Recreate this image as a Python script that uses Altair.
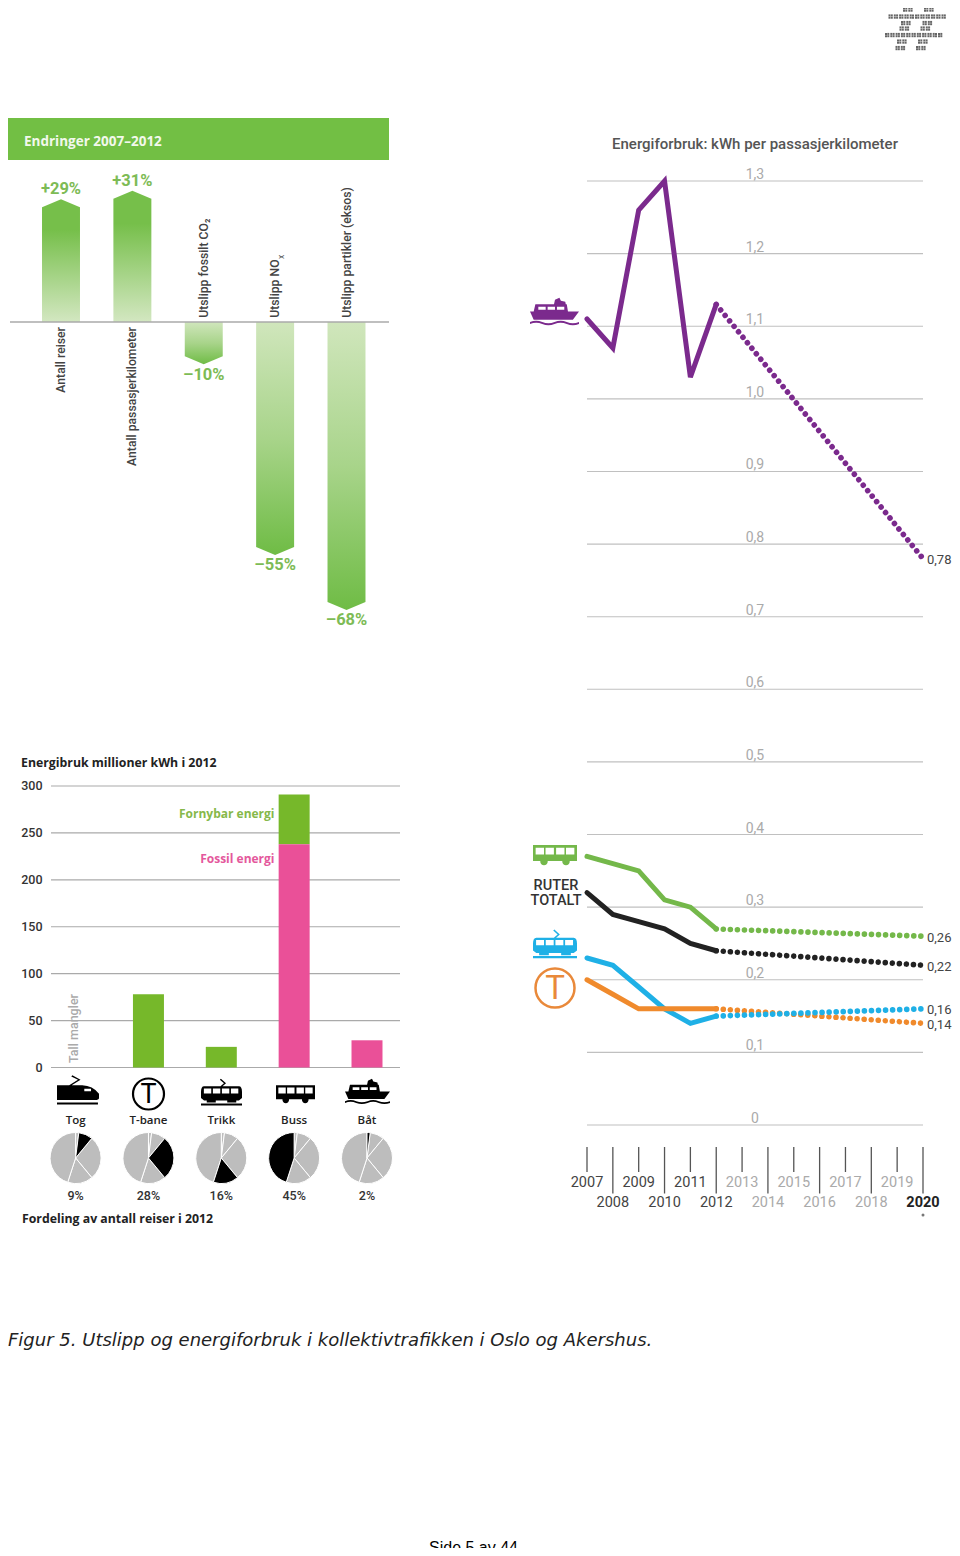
import math
import altair as alt
import pandas as pd

# ---------- data ----------
change_names = ["Antall reiser", "Antall passasjerkilometer", "Utslipp fossilt CO₂", "Utslipp NO", "Utslipp partikler (eksos)"]
change_values = [29, 31, -10, -55, -68]
change_labels = ["+29%", "+31%", "–10%", "–55%", "–68%"]

modes = ["Tog", "T-bane", "Trikk", "Buss", "Båt"]
renewable_start = [None, 0, 0, 238, None]
renewable_end = [None, 78, 22, 291, None]
fossil_start = [None, None, None, 0, 0]
fossil_end = [None, None, None, 238, 29]
energy_ticks = [0, 50, 100, 150, 200, 250, 300]
share_values = [9, 28, 16, 45, 2]
share_labels = ["9%", "28%", "16%", "45%", "2%"]
pie_order = ["Båt", "Tog", "T-bane", "Trikk", "Buss"]

years_all = list(range(2007, 2021))
years_hist = [2007, 2008, 2009, 2010, 2011, 2012]
boat_hist = [1.11, 1.07, 1.26, 1.30, 1.03, 1.13]
bus_hist = [0.37, 0.36, 0.35, 0.31, 0.30, 0.27]
total_hist = [0.32, 0.29, 0.28, 0.27, 0.25, 0.24]
tram_hist = [0.23, 0.22, 0.19, 0.16, 0.14, 0.15]
metro_hist = [0.20, 0.18, 0.16, 0.16, 0.16, 0.16]
end_labels = ["0,78", "0,26", "0,22", "0,16", "0,14"]
end_values = [0.78, 0.26, 0.22, 0.16, 0.14]
kwh_ticks = [0, 0.1, 0.2, 0.3, 0.4, 0.5, 0.6, 0.7, 0.8, 0.9, 1.0, 1.1, 1.2, 1.3]
kwh_labels = ["0", "0,1", "0,2", "0,3", "0,4", "0,5", "0,6", "0,7", "0,8", "0,9", "1,0", "1,1", "1,2", "1,3"]

logo_rows = [3, 9.5, 16.5, 23, 28.5, 35, 41.5, 48]
logo_spans = [[(905, 2), (926.5, 2)], [(904, 2), (925, 2)], [(889.5, 11)], [(902, 2), (923.5, 2)],
              [(900.5, 2), (921.5, 2)], [(886, 11)], [(898, 2), (919, 2)], [(896.5, 2), (917, 2)]]

FONT = "Roboto"
BOLD = "Open Sans"
ONE = pd.DataFrame({"k": [0]})
GREEN = "#74b84a"; BLACK = "#222222"; BLUE = "#1fb0e6"; ORANGE = "#f08a2c"; PURPLE = "#7b2a8d"
BAR_GREEN = "#76b82a"; PINK = "#ea5098"


def sc(domain, page_range, offset=8, **kw):
    return alt.Scale(domain=domain, range=[page_range[0] - offset, page_range[1] - offset], nice=False, zero=False, **kw)


def v(p):
    return alt.value(p - 8)


def note(s, x, y, **kw):
    kw.setdefault("font", FONT)
    kw.setdefault("baseline", "middle")
    return alt.Chart(ONE).mark_text(text=s, **kw).encode(x=v(x), y=v(y + 1))


# ---------- icon shapes, drawn in a -1..1 box ----------
def hole(x0, y0, x1, y1):
    return f"M{x0},{y0}L{x0},{y1}L{x1},{y1}L{x1},{y0}Z"


def box(x0, y0, x1, y1):
    return f"M{x0},{y0}L{x1},{y0}L{x1},{y1}L{x0},{y1}Z"


def disc(cx, cy, r):
    pts = [(cx + r * math.cos(i * math.pi / 8), cy + r * math.sin(i * math.pi / 8)) for i in range(16)]
    return "M" + "L".join(f"{a:.3f},{b:.3f}" for a, b in pts) + "Z"


TRAIN = ("M-1,-0.32L0.2,-0.32Q0.7,-0.3 1,0.08L1,0.28Q1,0.38 0.8,0.38L-1,0.38Z"
         + hole(0.3, -0.16, 0.62, -0.03)
         + "M-0.42,-0.32L0,-0.58L-0.32,-0.74L-0.27,-0.8L0.12,-0.58L-0.3,-0.32Z"
         + box(-1, 0.5, 0.95, 0.6))
TRAM = ("M-0.85,-0.38L0.85,-0.38Q1,-0.38 1,-0.1L1,0.2L0.85,0.32L-0.85,0.32L-1,0.2L-1,-0.1Q-1,-0.38 -0.85,-0.38Z"
        + "".join(hole(a, -0.27, a + 0.36, -0.03) for a in (-0.86, -0.42, 0.02, 0.46))
        + "M-0.05,-0.38L0.12,-0.52L-0.08,-0.7L-0.03,-0.75L0.22,-0.52L0.05,-0.38Z"
        + box(-0.72, 0.32, -0.28, 0.42) + box(0.28, 0.32, 0.72, 0.42)
        + box(-1, 0.46, 1, 0.56))
BUS = (box(-1, -0.45, 1, 0.27)
       + "".join(hole(a, -0.33, a + 0.38, -0.02) for a in (-0.88, -0.43, 0.05, 0.5))
       + disc(-0.5, 0.3, 0.17) + disc(0.5, 0.3, 0.17))
BOAT = ("M-1,0.02L1,0.02L0.75,0.36L-0.85,0.36Z"
        + "M-0.78,-0.28L0.5,-0.28L0.55,0.02L-0.85,0.02Z"
        + hole(-0.66, -0.17, -0.36, -0.05) + hole(-0.28, -0.17, 0.02, -0.05) + hole(0.1, -0.17, 0.4, -0.05)
        + "M-0.02,-0.28L0.02,-0.46L0.2,-0.54L0.26,-0.42L0.44,-0.38L0.46,-0.28Z"
        + "M-1,0.45Q-0.75,0.35 -0.5,0.45Q-0.25,0.55 0,0.45Q0.25,0.35 0.5,0.45Q0.75,0.55 1,0.45"
        + "L1,0.53Q0.75,0.63 0.5,0.53Q0.25,0.43 0,0.53Q-0.25,0.63 -0.5,0.53Q-0.75,0.43 -1,0.53Z")


def icon(path, x, y, side, color):
    return alt.Chart(ONE).mark_point(shape=path, size=side * side, filled=True, color=color, opacity=1, strokeWidth=0).encode(x=v(x), y=v(y))


layers = []

# ---------- logo ----------
logo_x, logo_y = [], []
for row, spans in zip(logo_rows, logo_spans):
    for start, n in spans:
        for i in range(n):
            for a in (0, 2.3):
                for b in (0, 2.3):
                    logo_x.append(start + i * 5.3 + a)
                    logo_y.append(row - 1.1 + b)
logo_df = pd.DataFrame({"x": logo_x, "y": logo_y})
layers.append(alt.Chart(logo_df).mark_square(size=4, color="#666666", opacity=1).encode(
    x=alt.X("x:Q", scale=sc([880, 950], [880, 950]), axis=None),
    y=alt.Y("y:Q", scale=sc([0, 60], [0, 60]), axis=None)))

# ---------- panel A: changes ----------
AX = sc([0, 4], [61, 346.5])
AY = sc([-70, 35], [322 + 70 * 4.235, 322 - 35 * 4.235])
layers.append(alt.Chart(ONE).mark_rect(color="#72bf44").encode(x=v(8), x2=v(389), y=v(118), y2=v(160)))
layers.append(note("Endringer 2007–2012", 24, 141, font=BOLD, color="#f2f8ec", fontSize=13.5, fontWeight=700, align="left"))

w = 0.266
up_rows, down_rows = [], []
for i, (name, val) in enumerate(zip(change_names, change_values)):
    sign = 1 if val > 0 else -1
    shoulder = val - sign * 1.9
    rows = up_rows if val > 0 else down_rows
    for dx, top in ((-w, shoulder), (0, val), (w, shoulder)):
        rows.append({"x": i + dx, "y": top, "base": 0, "name": name})
for rows, stops in ((up_rows, ["#76bf4a", "#76bf4a", "#d3e7c1"]), (down_rows, ["#d0e6bc", "#a8d48a", "#6fbc45"])):
    grad = {"gradient": "linear", "x1": 0, "x2": 0, "y1": 0, "y2": 1,
            "stops": [{"offset": 0, "color": stops[0]}, {"offset": 0.25 if rows is up_rows else 0.5, "color": stops[1]},
                      {"offset": 1, "color": stops[2]}]}
    layers.append(alt.Chart(pd.DataFrame(rows)).mark_area(color=grad, orient="vertical").encode(
        x=alt.X("x:Q", scale=AX, axis=None),
        y=alt.Y("y:Q", scale=AY, axis=None, stack=None),
        y2="base:Q", detail="name:N"))

layers.append(alt.Chart(pd.DataFrame({"y": [0]})).mark_rule(color="#aaaaaa", strokeWidth=1.3).encode(
    x=v(10), x2=v(389), y=alt.Y("y:Q", scale=AY, axis=None)))

label_df = pd.DataFrame({"i": range(5), "t": change_labels,
                         "y": [a + (2.3 if a > 0 else -2.4) for a in change_values]})
layers.append(alt.Chart(label_df).mark_text(font=FONT, fontSize=16.5, fontWeight=700, color="#7dbb55", baseline="middle").encode(
    x=alt.X("i:Q", scale=AX, axis=None), y=alt.Y("y:Q", scale=AY, axis=None), text="t:N"))
name_df = pd.DataFrame({"i": range(5), "t": change_names, "pos": [a > 0 for a in change_values]})
for pos, align, anchor in ((True, "right", -1.2), (False, "left", 1.0)):
    d = name_df[name_df.pos == pos].assign(y=anchor)
    layers.append(alt.Chart(d).mark_text(font=FONT, fontSize=12.2, fontWeight=500, color="#444444", angle=270,
                                         align=align, baseline="middle").encode(
        x=alt.X("i:Q", scale=AX, axis=None), y=alt.Y("y:Q", scale=AY, axis=None), text="t:N"))
layers.append(note("x", 280.5, 256, fontSize=8.5, color="#444444", angle=270, align="center"))

# ---------- panel B: energy ----------
BX = sc([0, 4], [75.6, 367], padding=0)
BY = sc([0, 300], [1067.5, 786])
layers.append(note("Energibruk millioner kWh i 2012", 21, 762, font=BOLD, color="#222222", fontSize=12.3, fontWeight=700, align="left"))
tick_df = pd.DataFrame({"y": energy_ticks, "t": [str(a) for a in energy_ticks]})
layers.append(alt.Chart(tick_df).mark_rule(color="#aaaaaa", strokeWidth=1.1).encode(
    x=v(51), x2=v(400), y=alt.Y("y:Q", scale=BY, axis=None)))
layers.append(alt.Chart(tick_df).mark_text(font=FONT, fontSize=12.5, fontWeight=500, color="#333333", align="right", baseline="middle").encode(
    x=v(42.5), y=alt.Y("y:Q", scale=BY, axis=None), text="t:N"))
seg = []
for i in range(5):
    if renewable_end[i] is not None:
        seg.append({"x": i, "a": renewable_start[i], "b": renewable_end[i], "kind": "Fornybar energi"})
    if fossil_end[i] is not None:
        seg.append({"x": i, "a": fossil_start[i], "b": fossil_end[i], "kind": "Fossil energi"})
layers.append(alt.Chart(pd.DataFrame(seg)).mark_bar(size=31).encode(
    x=alt.X("x:Q", scale=BX, axis=None),
    y=alt.Y("a:Q", scale=BY, axis=None, stack=None), y2="b:Q",
    color=alt.Color("kind:N", legend=None, scale=alt.Scale(domain=["Fornybar energi", "Fossil energi"], range=[BAR_GREEN, PINK]))))
layers.append(note("Fornybar energi", 274.5, 813, font=BOLD, color="#86b84a", fontSize=12, fontWeight=700, align="right"))
layers.append(note("Fossil energi", 274.5, 857.5, font=BOLD, color="#e4589c", fontSize=12, fontWeight=700, align="right"))
layers.append(note("Tall mangler", 74, 1062, color="#aaaaaa", fontSize=12.5, fontWeight=500, align="left", angle=270))

mode_df = pd.DataFrame({"i": range(5), "t": modes, "s": share_labels})
layers.append(alt.Chart(mode_df).mark_text(font=BOLD, fontSize=11.5, fontWeight=600, color="#222222", baseline="middle").encode(
    x=alt.X("i:Q", scale=BX, axis=None), y=v(1120.5), text="t:N"))
layers.append(alt.Chart(mode_df).mark_text(font=FONT, fontSize=12.5, fontWeight=500, color="#333333", baseline="middle").encode(
    x=alt.X("i:Q", scale=BX, axis=None), y=v(1195.5), text="s:N"))
layers.append(note("Fordeling av antall reiser i 2012", 22, 1217.5, font=BOLD, color="#222222", fontSize=12.3, fontWeight=700, align="left"))

share_by_mode = dict(zip(modes, share_values))
pie_rows = []
for i, m in enumerate(modes):
    start = 0
    for slice_name in pie_order:
        val = share_by_mode[slice_name]
        pie_rows.append({"i": i, "a": start, "b": start + val, "on": slice_name == m})
        start += val
pie_df = pd.DataFrame(pie_rows)
TH = alt.Scale(domain=[0, 100], range=[0, 2 * math.pi])
for on, col in ((False, "#bdbdbd"), (True, "#000000")):
    layers.append(alt.Chart(pie_df[pie_df.on == on]).mark_arc(radius=25.5, color=col, stroke="white", strokeWidth=1).encode(
        x=alt.X("i:Q", scale=BX, axis=None, stack=None), y=v(1158),
        theta=alt.Theta("a:Q", scale=TH, stack=None), theta2="b:Q"))

layers.append(icon(TRAIN, 78, 1092, 42, "#000000"))
layers.append(alt.Chart(ONE).mark_point(shape="circle", size=31 * 31, filled=False, color="#000000", strokeWidth=2.2, opacity=1).encode(x=v(148.5), y=v(1094)))
layers.append(note("T", 148.5, 1094, color="#000000", fontSize=27, fontWeight=400, align="center"))
layers.append(icon(TRAM, 221.5, 1094, 41, "#000000"))
layers.append(icon(BUS, 295.5, 1094, 39, "#000000"))
layers.append(icon(BOAT, 367.5, 1091, 45, "#000000"))

# ---------- panel C: kWh per passenger km ----------
CX = sc([2007, 2020], [587, 923])
CY = sc([0, 1.3], [1125, 181])
layers.append(note("Energiforbruk: kWh per passasjerkilometer", 755, 143, color="#555555", fontSize=15, fontWeight=500, align="center"))
grid_df = pd.DataFrame({"y": kwh_ticks, "t": kwh_labels, "a": 2007, "b": 2020, "mid": 2013.5})
layers.append(alt.Chart(grid_df).mark_rule(color="#c0c0c0", strokeWidth=1.1).encode(
    x=alt.X("a:Q", scale=CX, axis=None), x2="b:Q", y=alt.Y("y:Q", scale=CY, axis=None)))
layers.append(alt.Chart(grid_df).mark_text(font=FONT, fontSize=14, color="#aaaaaa", dy=-6, baseline="middle").encode(
    x=alt.X("mid:Q", scale=CX, axis=None), y=alt.Y("y:Q", scale=CY, axis=None), text="t:N"))

year_df = pd.DataFrame({"x": years_all, "t": [str(y) for y in years_all]})
odd = year_df[year_df.x % 2 == 1]
even = year_df[year_df.x % 2 == 0]
for d, bottom in ((odd, 1172), (even, 1193.5)):
    layers.append(alt.Chart(d).mark_rule(color="#555555", strokeWidth=1.3).encode(
        x=alt.X("x:Q", scale=CX, axis=None), y=v(1147), y2=v(bottom)))
for lo, hi, col, weight in ((2007, 2012, "#444444", 400), (2013, 2019, "#aaaaaa", 400), (2020, 2020, "#222222", 700)):
    part = year_df[(year_df.x >= lo) & (year_df.x <= hi)]
    for d, yy in ((part[part.x % 2 == 1], 1182.5), (part[part.x % 2 == 0], 1203)):
        if len(d):
            layers.append(alt.Chart(d).mark_text(font=FONT, fontSize=14.5, fontWeight=weight, color=col, baseline="middle").encode(
                x=alt.X("x:Q", scale=CX, axis=None), y=v(yy), text="t:N"))
layers.append(alt.Chart(pd.DataFrame({"x": [2020]})).mark_point(shape="circle", size=9, filled=True, color="#777777", opacity=1).encode(
    x=alt.X("x:Q", scale=CX, axis=None), y=v(1215)))


def solid(hist, color, width=5):
    d = pd.DataFrame({"x": years_hist, "y": hist})
    return alt.Chart(d).mark_line(color=color, strokeWidth=width, strokeCap="round", strokeJoin="miter").encode(
        x=alt.X("x:Q", scale=CX, axis=None), y=alt.Y("y:Q", scale=CY, axis=None))


def dotted(start, end, color):
    d = pd.DataFrame({"x": [2012, 2020], "y": [start, end]})
    return alt.Chart(d).mark_line(color=color, strokeWidth=5.6, strokeCap="round", strokeDash=[0.01, 7.05]).encode(
        x=alt.X("x:Q", scale=CX, axis=None), y=alt.Y("y:Q", scale=CY, axis=None))


layers += [dotted(metro_hist[-1], end_values[4], ORANGE), dotted(tram_hist[-1], end_values[3], BLUE),
           dotted(bus_hist[-1], end_values[1], GREEN), dotted(total_hist[-1], end_values[2], BLACK),
           dotted(boat_hist[-1], end_values[0], PURPLE)]
layers += [solid(boat_hist, PURPLE), solid(bus_hist, GREEN), solid(total_hist, BLACK),
           solid(tram_hist, BLUE), solid(metro_hist, ORANGE)]

end_df = pd.DataFrame({"x": 2020, "y": end_values, "t": end_labels})
layers.append(alt.Chart(end_df).mark_text(font=FONT, fontSize=13, color="#444444", align="left", baseline="middle", dx=4, dy=1.5).encode(
    x=alt.X("x:Q", scale=CX, axis=None), y=alt.Y("y:Q", scale=CY, axis=None), text="t:N"))

layers.append(icon(BOAT, 554.5, 311, 49, PURPLE))
layers.append(icon(BUS, 555, 855, 44, GREEN))
layers.append(icon(TRAM, 555, 946, 44, BLUE))
layers.append(alt.Chart(ONE).mark_point(shape="circle", size=39 * 39, filled=False, color="#e9893a", strokeWidth=2.5, opacity=1).encode(x=v(555), y=v(988)))
layers.append(note("T", 555, 988, color="#e9893a", fontSize=33, fontWeight=400, align="center"))
layers.append(note("RUTER", 556, 885, color="#333333", fontSize=14.5, fontWeight=500, align="center"))
layers.append(note("TOTALT", 556, 900, color="#333333", fontSize=14.5, fontWeight=500, align="center"))

# ---------- caption and footer ----------
layers.append(note("Figur 5. Utslipp og energiforbruk i kollektivtrafikken i Oslo og Akershus.", 8, 1340,
                   font="DejaVu Sans", fontStyle="italic", fontSize=18, color="#222222", align="left"))
layers.append(note("Side 5 av 44", 429, 1547, font="Liberation Sans", fontSize=16, color="#000000", align="left"))

chart = alt.layer(*layers).resolve_scale(x="independent", y="independent").properties(
    width=944, height=1540, padding=0, autosize=alt.AutoSizeParams(type="none"), background="white"
).configure_view(stroke=None)

chart.save("out.html", embed_options={"renderer": "svg", "actions": False})
